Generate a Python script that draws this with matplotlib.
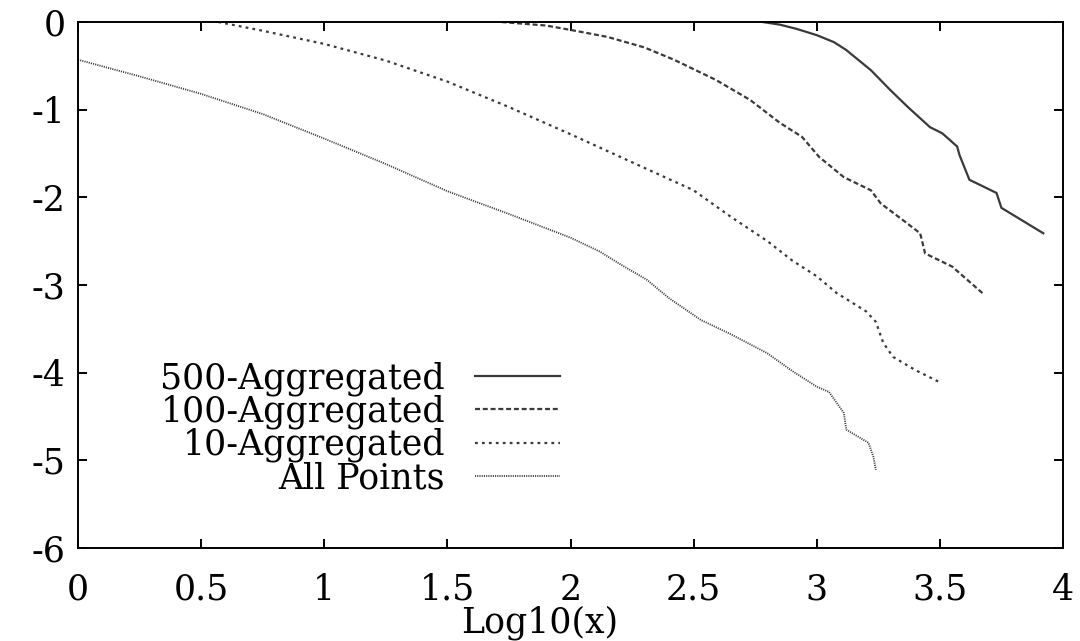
import matplotlib
matplotlib.use("Agg")
import matplotlib.pyplot as plt

# Complementary CDF curves on log10 axes
x_500 = [2.78, 2.85, 2.92, 3.00, 3.07, 3.12, 3.22, 3.30, 3.37, 3.46, 3.51, 3.57, 3.58, 3.62, 3.73, 3.75, 3.92]
y_500 = [0.0, -0.03, -0.08, -0.15, -0.23, -0.32, -0.55, -0.78, -0.97, -1.20, -1.27, -1.42, -1.52, -1.80, -1.95, -2.12, -2.41]

x_100 = [1.72, 1.90, 2.00, 2.15, 2.30, 2.42, 2.59, 2.73, 2.85, 2.94, 3.01, 3.11, 3.22, 3.26, 3.35, 3.42, 3.44, 3.55, 3.68]
y_100 = [0.0, -0.04, -0.09, -0.17, -0.29, -0.43, -0.66, -0.89, -1.15, -1.31, -1.54, -1.77, -1.92, -2.07, -2.26, -2.41, -2.64, -2.79, -3.11]

x_10 = [0.57, 0.75, 1.00, 1.25, 1.50, 1.75, 2.00, 2.25, 2.50, 2.65, 2.80, 2.90, 3.00, 3.08, 3.20, 3.24, 3.27, 3.31, 3.40, 3.50]
y_10 = [0.0, -0.10, -0.25, -0.44, -0.68, -0.97, -1.28, -1.60, -1.92, -2.22, -2.50, -2.72, -2.90, -3.09, -3.30, -3.42, -3.66, -3.82, -3.97, -4.11]

x_all = [0.00, 0.25, 0.50, 0.75, 1.00, 1.25, 1.50, 1.75, 2.00, 2.12, 2.20, 2.31, 2.40, 2.53, 2.65, 2.80,
         2.90, 3.00, 3.05, 3.11, 3.12, 3.18, 3.21, 3.23, 3.24]
y_all = [-0.43, -0.62, -0.82, -1.05, -1.33, -1.62, -1.93, -2.19, -2.46, -2.62, -2.76, -2.94, -3.15, -3.40, -3.56, -3.78,
         -3.98, -4.16, -4.22, -4.46, -4.65, -4.75, -4.80, -4.96, -5.11]

labels = ["500-Aggregated", "100-Aggregated", "10-Aggregated", "All Points"]
x_ticks = [0, 0.5, 1, 1.5, 2, 2.5, 3, 3.5, 4]
x_tick_labels = ["0", "0.5", "1", "1.5", "2", "2.5", "3", "3.5", "4"]
y_ticks = [0, -1, -2, -3, -4, -5, -6]
y_tick_labels = ["0", "-1", "-2", "-3", "-4", "-5", "-6"]

plt.rcParams["font.family"] = ["DejaVu Serif"]
plt.rcParams["axes.unicode_minus"] = False
plt.rcParams["lines.scale_dashes"] = False

fig = plt.figure(figsize=(10.8, 6.41), dpi=100)
ax = fig.add_axes([78 / 1080, 1 - 548 / 641, (1063 - 78) / 1080, (548 - 22) / 641])

line_color = "#3a3a3a"
lw = 1.6
ax.plot(x_500, y_500, color=line_color, lw=lw, linestyle="-", label=labels[0])
ax.plot(x_100, y_100, color=line_color, lw=lw, linestyle=(0, (3.6, 2.0)), label=labels[1])
ax.plot(x_10, y_10, color=line_color, lw=lw, linestyle=(0, (2.0, 3.0)), label=labels[2])
ax.plot(x_all, y_all, color=line_color, lw=1.3, linestyle=(0, (0.8, 0.8)), label=labels[3])

ax.set_xlim(0, 4)
ax.set_ylim(-6, 0)
ax.set_xticks(x_ticks)
ax.set_xticklabels(x_tick_labels)
ax.set_yticks(y_ticks)
ax.set_yticklabels(y_tick_labels)

for s in ax.spines.values():
    s.set_linewidth(1.4)
    s.set_color("black")

ax.tick_params(axis="both", direction="in", length=6.5, width=1.4, labelsize=25,
               top=True, right=True, colors="black")
ax.tick_params(axis="x", pad=18)
ax.tick_params(axis="y", pad=9)

ax.set_xlabel("Log10(x)", fontsize=25, labelpad=-1)
ax.xaxis.label.set_x(0.469)

ax.legend(loc="upper right", bbox_to_anchor=((560 - 78) / 985, (548 - 361) / 526),
          frameon=False, fontsize=25, markerfirst=False, handlelength=2.45,
          handletextpad=0.86, labelspacing=-0.03, borderpad=0, borderaxespad=0)

fig.savefig("out.png", dpi=100)
